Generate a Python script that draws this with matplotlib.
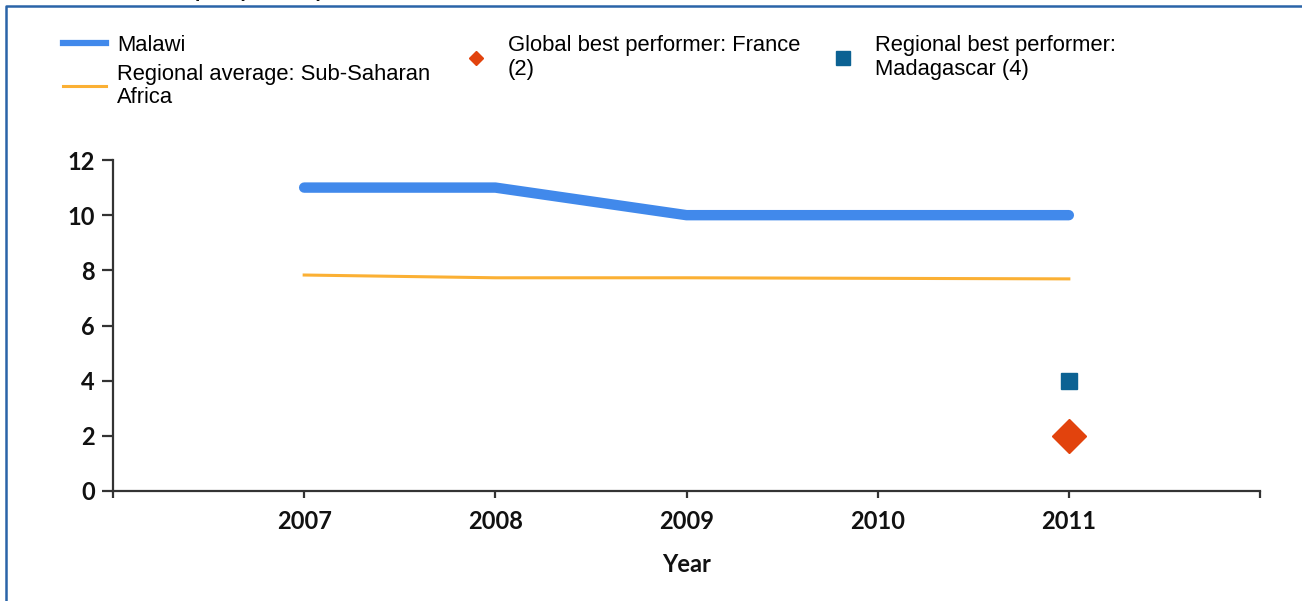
import matplotlib
matplotlib.use("Agg")
import matplotlib.pyplot as plt
from matplotlib.font_manager import FontProperties
from matplotlib.lines import Line2D

# Documents to export (number), Malawi vs. comparators
years = [2007, 2008, 2009, 2010, 2011]
malawi = [11, 11, 10, 10, 10]
regional_avg = [7.83, 7.73, 7.73, 7.71, 7.69]
global_best_year, global_best = 2011, 2
regional_best_year, regional_best = 2011, 4

x_ticks = [2006, 2007, 2008, 2009, 2010, 2011, 2012]
x_tick_labels = ["", "2007", "2008", "2009", "2010", "2011", ""]
y_ticks = [0, 2, 4, 6, 8, 10, 12]

C_MALAWI = "#4189eb"
C_REGION = "#fbb034"
C_GLOBAL = "#e2430d"
C_RBEST = "#0c6293"
C_AXIS = "#333333"
C_FRAME = "#2a64a8"

W, H = 1302, 601
fig = plt.figure(figsize=(W / 100, H / 100), dpi=100)
ax = fig.add_axes([113 / W, 1 - 491 / H, (1260 - 113) / W, (491 - 160) / H])

ax.plot(years, malawi, color=C_MALAWI, lw=7.5, solid_capstyle="round",
        solid_joinstyle="round", zorder=3)
ax.plot(years, regional_avg, color=C_REGION, lw=2.2, zorder=2)
ax.plot([global_best_year], [global_best], ls="none", marker="D", ms=17,
        color=C_GLOBAL, zorder=4)
ax.plot([regional_best_year], [regional_best], ls="none", marker="s", ms=11.5,
        color=C_RBEST, zorder=4)

ax.set_xlim(2006, 2012)
ax.set_ylim(0, 12)
ax.set_xticks(x_ticks)
ax.set_xticklabels(x_tick_labels)
ax.set_yticks(y_ticks)

for side in ("top", "right"):
    ax.spines[side].set_visible(False)
for side in ("left", "bottom"):
    ax.spines[side].set_color(C_AXIS)
    ax.spines[side].set_linewidth(1.6)

tick_font = FontProperties(family="Lato", weight="bold", size=17)
ax.tick_params(axis="y", length=8, width=1.6, color=C_AXIS, pad=5)
ax.tick_params(axis="x", length=5, width=1.6, color=C_AXIS, pad=9)
for lbl in ax.get_xticklabels() + ax.get_yticklabels():
    lbl.set_fontproperties(tick_font)
    lbl.set_color("#111111")
ax.set_xlabel("Year", fontfamily="Lato", fontweight="bold", fontsize=17,
              color="#111111", labelpad=14)

# legend proxies: markers in the key are smaller than on the plot
legend_groups = [
    (63, [Line2D([], [], color=C_MALAWI, lw=4.5),
          Line2D([], [], color=C_REGION, lw=2.2)],
     ["Malawi", "Regional average: Sub-Saharan\nAfrica"]),
    (454, [Line2D([], [], ls="none", marker="D", ms=7, color=C_GLOBAL)],
     ["Global best performer: France\n(2)"]),
    (821, [Line2D([], [], ls="none", marker="s", ms=10, color=C_RBEST)],
     ["Regional best performer:\nMadagascar (4)"]),
]
for x0, hnd, lab in legend_groups:
    leg = fig.legend(hnd, lab, loc="upper left",
                     bbox_to_anchor=(x0 / W, 1 - 35 / H), frameon=False,
                     borderpad=0, borderaxespad=0, handlelength=1.96,
                     handletextpad=0.5, labelspacing=0.35,
                     prop=dict(family="Liberation Sans", size=15.8))
    for t in leg.get_texts():
        t.set_linespacing(1.17)

# panel frame and the clipped heading above it
fig.add_artist(Line2D([6 / W, 6 / W, 1], [0, 1 - 6 / H, 1 - 6 / H],
                      transform=fig.transFigure, color=C_FRAME, lw=1.8))
fig.text(38 / W, 1 + 3 / H, "Documents to export (number)", ha="left",
         va="baseline", fontfamily="Liberation Sans", fontweight="bold",
         fontsize=14, color="#111111")

fig.savefig("out.png", dpi=100, facecolor="white")
